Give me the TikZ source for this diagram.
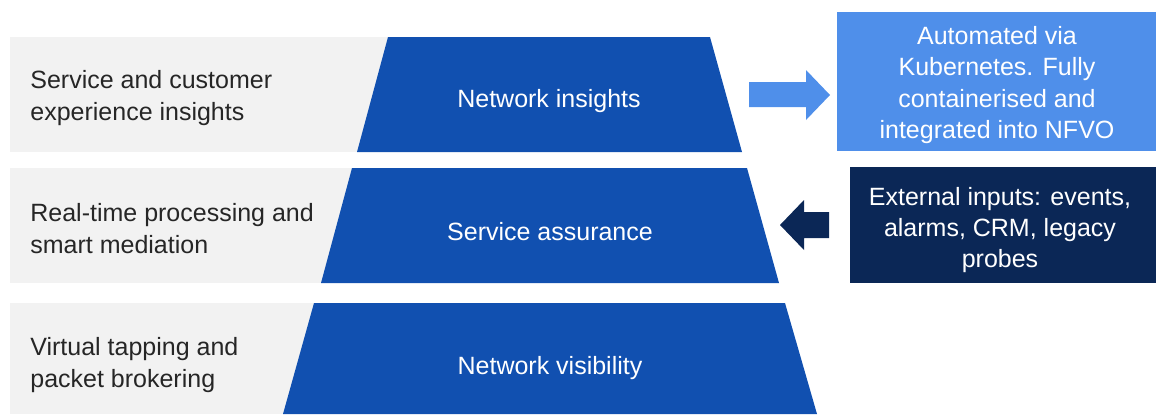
\documentclass[tikz,border=0pt]{standalone}
\usepackage{fontspec}
\setmainfont{Liberation Sans}
\usetikzlibrary{positioning}
\definecolor{pyrblue}{HTML}{1150B0}
\definecolor{autoblue}{HTML}{4F8FEA}
\definecolor{inputnavy}{HTML}{0B2756}
\definecolor{bargray}{HTML}{F2F2F2}
\definecolor{labelgray}{HTML}{262626}
\tikzset{
    layerlabel/.style={anchor=west, align=left, text=labelgray, inner sep=0pt,
        font=\fontsize{12.5}{16}\selectfont},
    tiertext/.style={text=white, inner sep=0pt, font=\fontsize{12.5}{16}\selectfont},
    sidebox/.style={text=white, align=center, inner sep=0pt,
        font=\fontsize{12.5}{15.7}\selectfont}
}
\begin{document}
\begin{tikzpicture}[x=0.5pt, y=-0.5pt]
    \useasboundingbox (0,0) rectangle (1156,414);
    % grey bands behind the pyramid
    \fill[bargray] (10,37) rectangle (550,152);
    \fill[bargray] (10,168) rectangle (550,283);
    \fill[bargray] (10,303) rectangle (550,414);
    % pyramid tiers
    \fill[pyrblue] (388,37) -- (710,37) -- (742,152) -- (357,152) -- cycle;
    \fill[pyrblue] (352,168) -- (747,168) -- (779,283) -- (321,283) -- cycle;
    \fill[pyrblue] (314,303) -- (785,303) -- (817,414) -- (283,414) -- cycle;
    \node[tiertext] (insights) at (549,101) {Network insights};
    \node[tiertext] (assurance) at (550,232) {Service assurance};
    \node[tiertext] (visibility) at (550,368) {Network visibility};
    % left labels
    \node[layerlabel] (cxlabel) at (30,98) {Service and customer\\experience insights};
    \node[layerlabel] (rtlabel) at (30,229) {Real-time processing and\\smart mediation};
    \node[layerlabel] (taplabel) at (30,365) {Virtual tapping and\\packet brokering};
    % side boxes
    \fill[autoblue] (837,12) rectangle (1156,151);
    \node[sidebox] (auto) at (997,85) {Automated via\\Kubernetes. Fully\\containerised and\\integrated into NFVO};
    \fill[inputnavy] (850,167) rectangle (1156,283);
    \node[sidebox] (inputs) at (1000,230) {External inputs: events,\\alarms, CRM, legacy\\probes};
    % block arrows
    \fill[autoblue] (749,82) -- (806,82) -- (806,70) -- (830,95) -- (806,120) -- (806,107) -- (749,107) -- cycle;
    \fill[inputnavy] (829,212) -- (804,212) -- (804,200) -- (780,225) -- (804,250) -- (804,238) -- (829,238) -- cycle;
\end{tikzpicture}
\end{document}
